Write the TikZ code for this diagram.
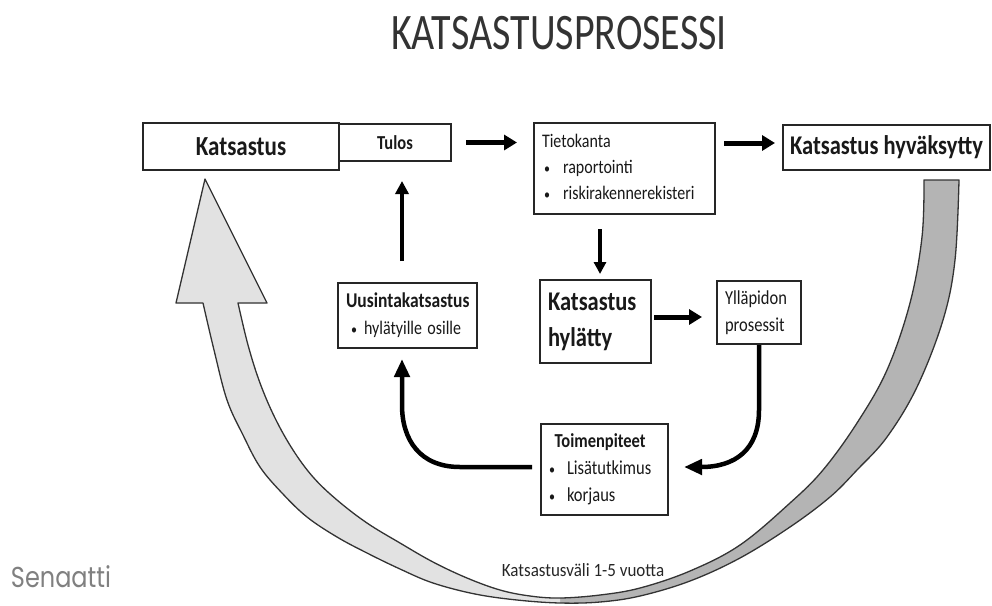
\documentclass[tikz,border=0pt]{standalone}
\usepackage{fontspec}
\usepackage{graphicx}
\setmainfont{Carlito}
\newfontfamily\logofont{Poppins}
\usetikzlibrary{arrows.meta}
\newcommand{\vs}[1]{\scalebox{1}[1.2]{#1}}
\newcommand{\smallbul}{{\fontsize{12}{12}\selectfont •}}
\newcommand{\bul}{\makebox[21pt][l]{\hspace{2pt}\smallbul}}
\definecolor{ribbonlight}{HTML}{E2E2E2}
\definecolor{ribbondark}{HTML}{B4B4B4}
\newcommand{\ribbonpath}{(238,303) -- (267,303) -- (205,179) -- (176,303) --
  plot[smooth, tension=0.6] coordinates {(203,303) (214,350) (227,400) (243,435) (260,467) (282,493) (307,517) (337,537) (367,553) (400,569) (433,583) (475,594) (517,600) (560,603) (600,602) (640,596) (690,581) (740,558) (790,527) (830,497) (857,470) (887,437) (917,387) (943,320) (955,260) (959,180)}
  -- plot[smooth, tension=0.6] coordinates {(924,180) (922,237) (910,303) (887,370) (857,423) (823,470) (790,503) (740,545) (690,571) (640,588) (600,595) (560,598) (530,596) (500,590) (467,578) (433,562) (400,543) (367,523) (337,500) (313,477) (293,450) (275,418) (260,383) (248,345) (238,303)} -- cycle}
\begin{document}
\begin{tikzpicture}[x=1pt,y=-1pt,
  box/.style={draw=black!85, line width=2pt, fill=white, inner ysep=0pt, text=black!90},
  bigarrow/.style={line width=5pt, -{Triangle[length=13pt,width=15pt]}},
  midarrow/.style={line width=3.2pt, -{Triangle[length=12pt,width=12pt]}},
  uparrow/.style={line width=4.2pt, -{Triangle[length=13pt,width=13pt]}},
  curvearrow/.style={line width=4.5pt, -{Triangle[length=18pt,width=15pt]}},
  ]
\useasboundingbox (0,0) rectangle (992,605);

% big curved return arrow
\fill[ribbondark] \ribbonpath;
\begin{scope}
  \clip (0,0) rectangle (560,605);
  \fill[ribbonlight] \ribbonpath;
\end{scope}
\draw[black!80, line width=1.3pt, line join=round] \ribbonpath;

% title
\node[font=\fontsize{40}{48}\selectfont, text=black!80] (title) at (559,33) {\scalebox{1}[1.28]{KATSASTUSPROSESSI}};

% boxes
\node[box, minimum width=196pt, minimum height=47pt, font=\fontsize{23}{27}\selectfont\bfseries] (kats) at (241,146.5) {\vs{Katsastus}};
\node[box, minimum width=112pt, minimum height=37pt, font=\fontsize{16.5}{20}\selectfont\bfseries] (tulos) at (395,142.5) {\vs{Tulos}};
\node[box, text width=165pt, inner xsep=8pt, minimum height=91pt, align=left, font=\fontsize{16}{21.7}\selectfont] (tieto) at (624.5,168.5)
  {\vs{\begin{tabular}{@{}l@{}}Tietokanta\\\bul raportointi\\\bul riskirakennerekisteri\end{tabular}}};
\node[box, minimum width=207pt, minimum height=45pt, font=\fontsize{22.5}{27}\selectfont\bfseries] (hyv) at (886.5,147.5) {\vs{Katsastus hyväksytty}};
\node[box, text width=95pt, inner xsep=8pt, minimum height=83pt, align=left, font=\fontsize{22.5}{30}\selectfont\bfseries] (hyl) at (595.5,321.5)
  {\vs{\begin{tabular}{@{}l@{}}Katsastus\\hylätty\end{tabular}}};
\node[box, text width=68pt, inner xsep=8pt, minimum height=63pt, align=left, font=\fontsize{16.5}{22.5}\selectfont] (yll) at (759,312.5)
  {\vs{\begin{tabular}{@{}l@{}}Ylläpidon\\prosessit\end{tabular}}};
\node[box, text width=123pt, inner xsep=8pt, minimum height=65pt, align=left, font=\fontsize{16}{22.5}\selectfont] (uus) at (407.5,315.5)
  {\vs{\begin{tabular}{@{}l@{}}{\fontsize{17.5}{22.5}\selectfont\bfseries Uusintakatsastus}\\\makebox[18pt][l]{\hspace{5pt}\smallbul}hylätyille osille\end{tabular}}};
\node[box, text width=111pt, inner xsep=8pt, minimum height=91pt, align=left, font=\fontsize{16.5}{22.5}\selectfont] (toim) at (604.5,469.5)
  {\vs{\begin{tabular}{@{}l@{}}\multicolumn{1}{@{}c@{}}{\textbf{Toimenpiteet}}\\\makebox[18pt][l]{\smallbul}Lisätutkimus\\\makebox[18pt][l]{\smallbul}korjaus\end{tabular}}};

% connectors
\draw[bigarrow, shorten <=14pt, shorten >=16pt] (tulos.east) -- (tulos.east -| tieto.west);
\draw[bigarrow, shorten <=8pt, shorten >=7pt] ([yshift=4.5pt]hyv.west -| tieto.east) -- ([yshift=4.5pt]hyv.west);
\draw[midarrow, shorten <=14pt, shorten >=5pt] ([xshift=4.5pt]hyl.north |- tieto.south) -- ([xshift=4.5pt]hyl.north);
\draw[bigarrow, shorten <=2pt, shorten >=14pt] ([yshift=4.5pt]hyl.east) -- ([yshift=4.5pt]hyl.east -| yll.west);
\draw[curvearrow, shorten >=15pt] (yll.south) -- (yll.south |- 0,410) .. controls (759,450) and (735,467) .. ([yshift=2.5pt]toim.east);
\draw[curvearrow, shorten <=8pt, shorten >=10pt] ([yshift=2.5pt]toim.west) -- (460,467) .. controls (420,467) and (402,440) .. (402,405) -- ([xshift=-5.5pt]uus.south);
\draw[uparrow, shorten <=21pt, shorten >=19pt] ([xshift=-5.5pt]uus.north) -- ([xshift=-5.5pt]uus.north |- tulos.south);

% labels
\node[font=\fontsize{17}{20}\selectfont, text=black!85] (vali) at (583,570) {\scalebox{1}[1.1]{Katsastusväli 1-5 vuotta}};
\node[font=\logofont\fontsize{24}{28}\selectfont, text=black!50] (logo) at (61,577) {\vs{Senaatti}};
\end{tikzpicture}
\end{document}
